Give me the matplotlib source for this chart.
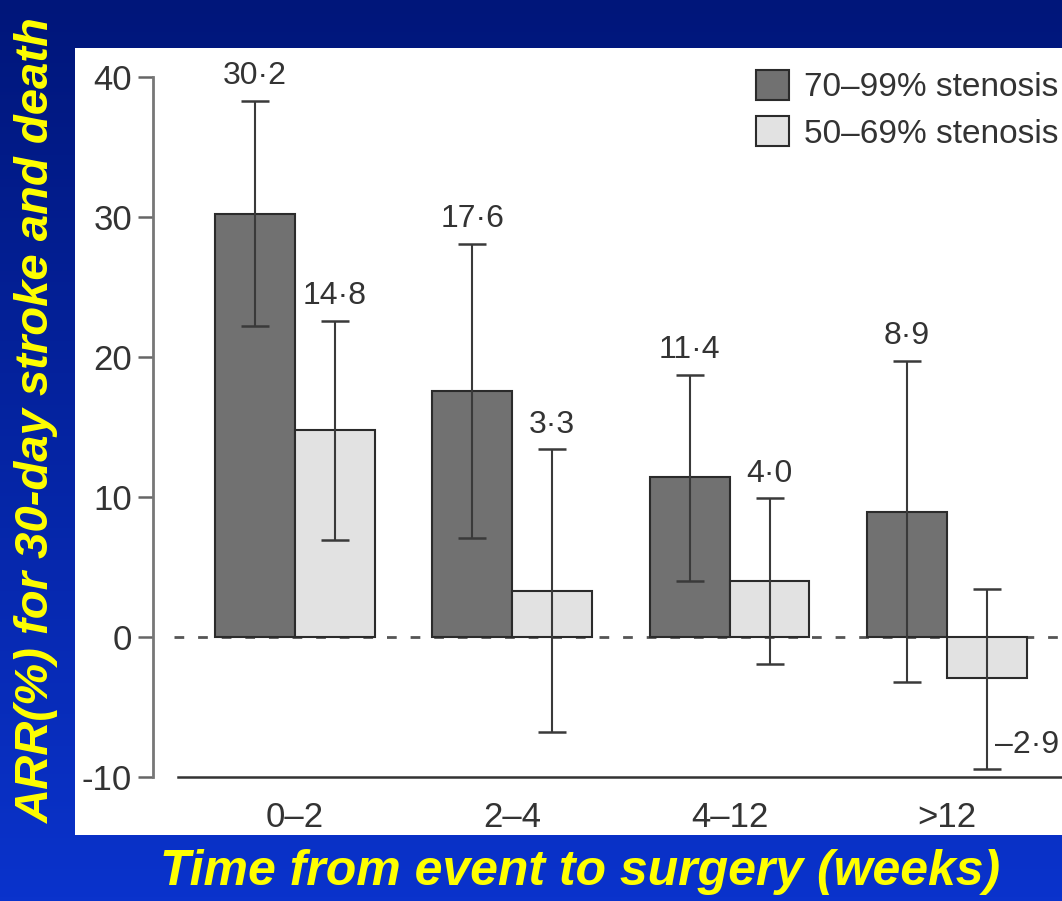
import numpy as np
import matplotlib.pyplot as plt
from matplotlib.colors import LinearSegmentedColormap

plt.rcParams['font.family'] = ['Liberation Sans', 'DejaVu Sans']

groups = ['0–2', '2–4', '4–12', '>12']
severe = [30.2, 17.6, 11.4, 8.9]
severe_lo = [22.2, 7.1, 4.0, -3.2]
severe_hi = [38.3, 28.1, 18.7, 19.7]
moderate = [14.8, 3.3, 4.0, -2.9]
moderate_lo = [6.9, -6.8, -1.9, -9.4]
moderate_hi = [22.6, 13.4, 9.9, 3.4]
labels = ['70–99% stenosis', '50–69% stenosis']


def fmt(v):
    s = ('%.1f' % abs(v)).replace('.', '·')
    return ('–' if v < 0 else '') + s


fig = plt.figure(figsize=(10.62, 9.01), dpi=100)

# blue gradient backdrop
bg = fig.add_axes([0, 0, 1, 1])
grad = np.linspace(0, 1, 256).reshape(-1, 1)
cmap = LinearSegmentedColormap.from_list('bl', ['#00167a', '#0a33cc'])
bg.imshow(grad, aspect='auto', cmap=cmap, extent=[0, 1, 0, 1])
bg.axis('off')

ax = fig.add_axes([75 / 1062, 66 / 901, 987 / 1062, 787 / 901])
ax.set_facecolor('white')

x = np.arange(len(groups))
w = 0.368
off = 0.184
dark = '#717171'
light = '#e2e2e2'
edge = '#2b2b2b'
txt = '#333333'

b1 = ax.bar(x - off, severe, w, color=dark, edgecolor=edge, linewidth=1.5,
            label=labels[0], zorder=2)
b2 = ax.bar(x + off, moderate, w, color=light, edgecolor=edge, linewidth=1.5,
            label=labels[1], zorder=2)

ekw = dict(fmt='none', ecolor='#3a3a3a', elinewidth=1.5, capsize=10,
           capthick=1.8, zorder=3)
s = np.array(severe)
m = np.array(moderate)
ax.errorbar(x - off, s, yerr=[s - np.array(severe_lo), np.array(severe_hi) - s], **ekw)
ax.errorbar(x + off, m, yerr=[m - np.array(moderate_lo), np.array(moderate_hi) - m], **ekw)

# value labels
for i in range(len(groups)):
    ax.annotate(fmt(severe[i]), (x[i] - off, severe_hi[i]), xytext=(0, 7),
                textcoords='offset points', ha='center', va='bottom',
                fontsize=23, color=txt)
    if moderate[i] >= 0:
        ax.annotate(fmt(moderate[i]), (x[i] + off, moderate_hi[i]), xytext=(0, 7),
                    textcoords='offset points', ha='center', va='bottom',
                    fontsize=23, color=txt)
    else:
        ax.annotate(fmt(moderate[i]), (x[i] + off, moderate_lo[i]), xytext=(6, 17),
                    textcoords='offset points', ha='left', va='center',
                    fontsize=23, color=txt)

ax.axhline(0, xmin=0.1, xmax=1, color='#555555', lw=2, ls=(0, (3.5, 5)), zorder=1)

ax.set_xlim(-1.012, 3.53)
ax.set_ylim(-14.14, 42.07)

ax.spines['top'].set_visible(False)
ax.spines['right'].set_visible(False)
ax.spines['left'].set_position(('data', -0.653))
ax.spines['left'].set_bounds(-10, 40)
ax.spines['left'].set_color('#777777')
ax.spines['left'].set_linewidth(2)
ax.spines['bottom'].set_position(('data', -10))
ax.spines['bottom'].set_bounds(-0.54, 3.6)
ax.spines['bottom'].set_color('#333333')
ax.spines['bottom'].set_linewidth(1.8)

ax.set_yticks([-10, 0, 10, 20, 30, 40], ['-10', '0', '10', '20', '30', '40'])
ax.tick_params(axis='y', length=11, width=1.8, color='#666666', pad=4,
               labelsize=25, labelcolor=txt)
ax.set_xticks(x, groups)
ax.tick_params(axis='x', length=0, pad=17, labelsize=25, labelcolor=txt)

ax.legend(handles=[b1, b2], loc='upper left', bbox_to_anchor=(0.668, 1.0),
          frameon=False, fontsize=24, handlelength=1.0, handleheight=1.0,
          handletextpad=0.45, labelspacing=0.4, labelcolor=txt,
          borderaxespad=0.25)

fig.text(580 / 1062, 1 - 872 / 901, 'Time from event to surgery (weeks)',
         color='#ffff00', fontsize=36, fontweight='bold', fontstyle='italic',
         ha='center', va='center')
fig.text(37 / 1062, 1 - 420 / 901, 'ARR(%) for 30-day stroke and death',
         color='#ffff00', fontsize=34, fontweight='bold', fontstyle='italic',
         ha='center', va='center', rotation=90)

fig.savefig('out.png', dpi=100)
